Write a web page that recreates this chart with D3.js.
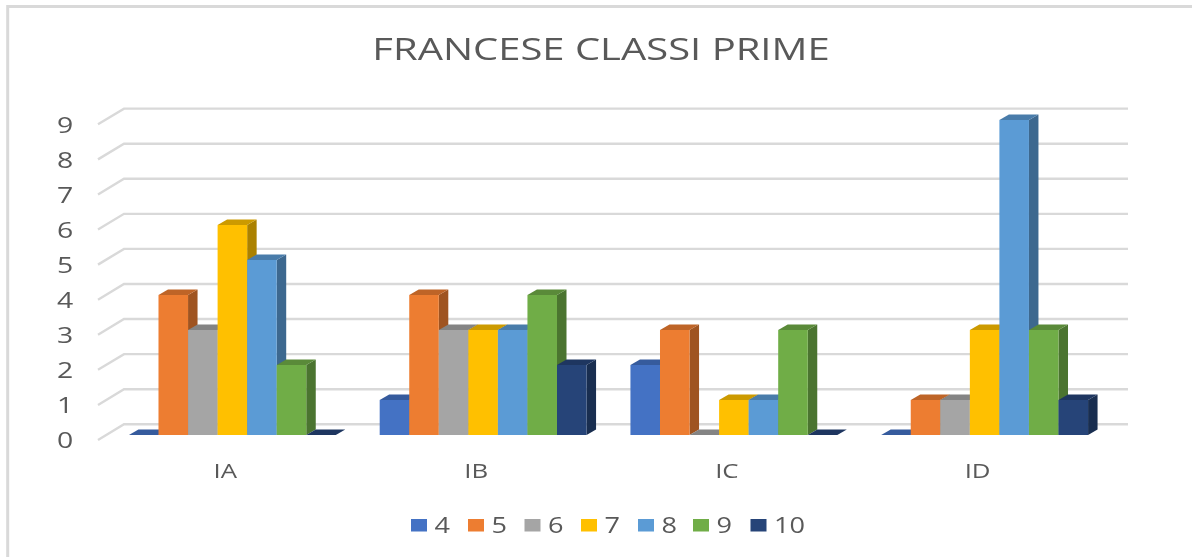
<!DOCTYPE html>
<html>
<head>
<meta charset="utf-8">
<script src="https://cdnjs.cloudflare.com/ajax/libs/d3/7.8.5/d3.min.js"></script>
<style>
html,body{margin:0;padding:0;background:#fff;overflow:hidden}
svg{display:block;filter:blur(0.55px)}
text{font-family:"Open Sans",sans-serif;fill:#595959}
</style>
</head>
<body>
<svg id="chart" width="1192" height="557"></svg>
<script>
const titleText = "FRANCESE CLASSI PRIME";
const categories = ["IA", "IB", "IC", "ID"];
const seriesNames = ["4", "5", "6", "7", "8", "9", "10"];
const values4 = [0, 1, 2, 0];
const values5 = [4, 4, 3, 1];
const values6 = [3, 3, 0, 1];
const values7 = [6, 3, 1, 3];
const values8 = [5, 3, 1, 9];
const values9 = [2, 4, 3, 3];
const values10 = [0, 2, 0, 1];
const seriesValues = [values4, values5, values6, values7, values8, values9, values10];
const colors = ["#4472c4", "#ed7d31", "#a5a5a5", "#ffc000", "#5b9bd5", "#70ad47", "#264478"];
const yTicks = [0, 1, 2, 3, 4, 5, 6, 7, 8, 9];

const svg = d3.select("#chart");
const stretch = 1.29; // the reference image is stretched horizontally

svg.append("path")
  .attr("d", d3.line()([[7.7, 557], [7.7, 6.5], [1192, 6.5]]))
  .attr("fill", "none").attr("stroke", "#d9d9d9").attr("stroke-width", 3);

const y = d3.scaleLinear().domain([0, 9]).range([435, 120]);
const yGrid = d3.scaleLinear().domain([0, 9]).range([440, 124.3]);
const x0 = d3.scaleBand().domain(categories).range([107, 1110]).paddingInner(0.175).paddingOuter(0.0875);
const x1 = d3.scaleBand().domain(seriesNames).range([0, x0.bandwidth()]);

const wallDx = 26, wallDy = -15.7;
const barDx = 9.5, barDy = -5.5;
const shade = (c, k) => d3.rgb(c.r * k, c.g * k, c.b * k).toString();

const grid = svg.append("g");
yTicks.forEach(t => {
  const yf = yGrid(t);
  grid.append("path")
    .attr("d", d3.line()([[98, yf], [98 + wallDx, yf + wallDy], [1128, yf + wallDy]]))
    .attr("fill", "none").attr("stroke", "#d9d9d9").attr("stroke-width", 2.4);
});

svg.append("g").selectAll("text").data(yTicks).join("text")
  .attr("transform", d => `translate(65,${y(d) + 12.5}) scale(${stretch},1)`)
  .attr("text-anchor", "middle")
  .attr("font-size", 22).text(d => d);

const poly = pts => d3.line()(pts) + "Z";
const bars = svg.append("g");
categories.forEach((c, ci) => {
  seriesNames.forEach((s, si) => {
    const v = seriesValues[si][ci];
    const col = d3.rgb(colors[si]);
    const L = x0(c) + x1(s), R = L + x1.bandwidth();
    const T = y(v), B = y(0);
    const g = bars.append("g");
    g.append("path").attr("d", poly([[R, T], [R + barDx, T + barDy], [R + barDx, B + barDy], [R, B]]))
      .attr("fill", shade(col, 0.67));
    g.append("path").attr("d", poly([[L, T], [L + barDx, T + barDy], [R + barDx, T + barDy], [R, T]]))
      .attr("fill", shade(col, 0.8));
    if (v > 0) g.append("rect").attr("x", L).attr("y", T).attr("width", R - L).attr("height", B - T)
      .attr("fill", col.toString());
  });
});

svg.append("g").selectAll("text").data(categories).join("text")
  .attr("transform", d => `translate(${x0(d) + x0.bandwidth() / 2 - 7},478) scale(${stretch},1)`)
  .attr("text-anchor", "middle")
  .attr("font-size", 20).text(d => d);

svg.append("text").attr("transform", `translate(601,60) scale(${stretch},1)`)
  .attr("text-anchor", "middle").attr("font-size", 31)
  .text(titleText);

const legendX = [411, 468, 524.5, 581, 638, 693, 750.5];
const legend = svg.append("g").selectAll("g").data(seriesNames).join("g")
  .attr("transform", (d, i) => `translate(${legendX[i]},519)`);
legend.append("rect").attr("width", 16).attr("height", 12.5).attr("fill", (d, i) => colors[i]);
legend.append("text").attr("transform", `translate(23.5,13.5) scale(${stretch},1)`)
  .attr("font-size", 21).text(d => d);
</script>
</body>
</html>
